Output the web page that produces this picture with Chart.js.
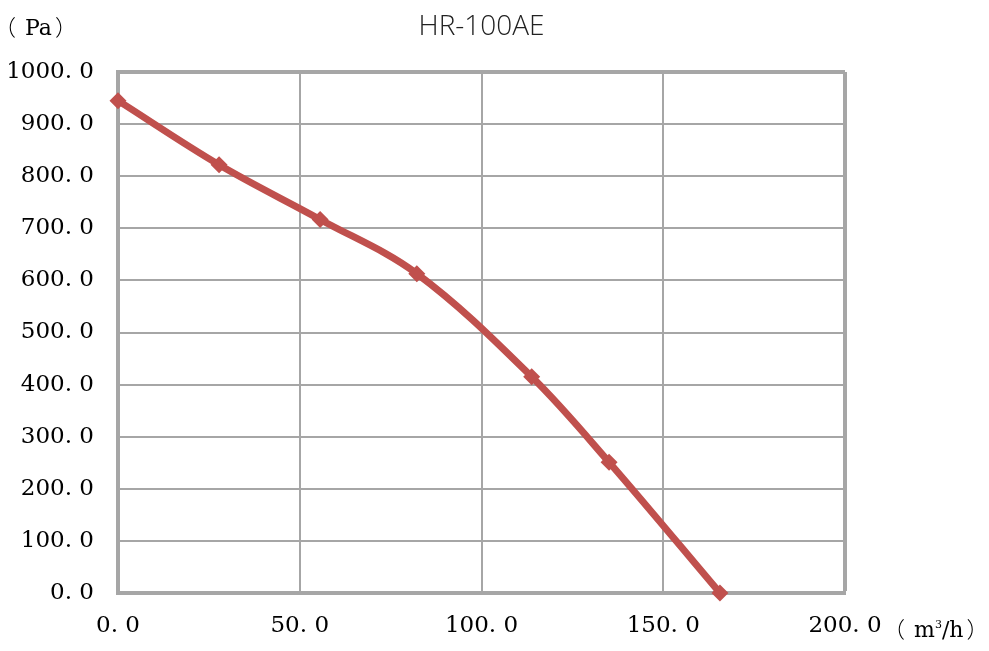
<!DOCTYPE html>
<html>
<head>
<meta charset="utf-8">
<script src="https://cdn.jsdelivr.net/npm/chart.js@4/dist/chart.umd.min.js"></script>
<style>
  html, body { margin: 0; padding: 0; background: #fff; }
  #wrap { position: relative; width: 989px; height: 651px; }
  canvas { position: absolute; left: 0; top: 0; }
  .unit { position: absolute; font-family: "DejaVu Serif", "Liberation Serif", serif; font-size: 22px; color: #000; white-space: nowrap; line-height: 1; }
  .p { font-family: "Noto Sans CJK SC", sans-serif; font-weight: 300; }
  .l { margin-left: -11px; margin-right: 9px; }
  .r { margin-left: 3px; }
</style>
</head>
<body>
<div id="wrap">
  <canvas id="c" width="989" height="651"></canvas>
  <div class="unit" style="left:5px; top:14px;"><span class="p l">（</span>Pa<span class="p r">）</span></div>
  <div class="unit" style="left:894px; top:616px;"><span class="p l">（</span>m<sup style="font-size:11px; vertical-align: 9px;">3</sup>/h<span class="p r">）</span></div>
</div>
<script>
const chartTitle = "HR-100AE";
const flowValues = [0, 27.8, 55.6, 82.2, 113.8, 135.1, 165.6];
const pressureValues = [945, 822, 717, 613, 415, 251, 0];
const xTickValues = [0, 50, 100, 150, 200];
const yTickValues = [0, 100, 200, 300, 400, 500, 600, 700, 800, 900, 1000];

const points = flowValues.map((x, i) => ({ x: x, y: pressureValues[i] }));
const fmt = v => v.toFixed(1).replace('.', '. ');
const gridColor = '#a6a6a6';

new Chart(document.getElementById('c'), {
  type: 'line',
  data: {
    datasets: [{
      data: points,
      borderColor: '#c0504d',
      backgroundColor: '#c0504d',
      borderWidth: 7,
      pointStyle: 'rectRot',
      pointRadius: 8.5,
      pointBorderWidth: 0,
      tension: 0.35,
      clip: false,
      fill: false
    }]
  },
  options: {
    responsive: false,
    animation: false,
    devicePixelRatio: 1,
    layout: { padding: { left: 0, right: 144, top: 0, bottom: 0 } },
    plugins: {
      legend: { display: false },
      tooltip: { enabled: false },
      title: {
        display: true,
        text: chartTitle,
        fullSize: false,
        color: '#222',
        font: { family: '"Open Sans", "Noto Sans", sans-serif', size: 28, weight: 300 },
        padding: { top: 10, bottom: 28.4 }
      }
    },
    scales: {
      x: {
        type: 'linear',
        min: 0, max: 200,
        afterBuildTicks: s => { s.ticks = xTickValues.map(v => ({ value: v })); },
        afterFit: s => { s.height = 58; },
        ticks: {
          color: '#000',
          font: { family: '"DejaVu Serif", serif', size: 23 },
          padding: 19,
          maxRotation: 0,
          callback: v => fmt(v)
        },
        grid: {
          color: gridColor,
          lineWidth: ctx => (ctx.tick && ctx.tick.value === 200) ? 4 : 2,
          drawTicks: false
        },
        border: { display: true, color: gridColor, width: 4 }
      },
      y: {
        type: 'linear',
        min: 0, max: 1000,
        afterBuildTicks: s => { s.ticks = yTickValues.map(v => ({ value: v })); },
        afterFit: s => { s.width = 118; },
        ticks: {
          color: '#000',
          font: { family: '"DejaVu Serif", serif', size: 23 },
          padding: 24,
          callback: v => fmt(v)
        },
        grid: {
          color: gridColor,
          lineWidth: ctx => (ctx.tick && ctx.tick.value === 1000) ? 4 : 2,
          drawTicks: false
        },
        border: { display: true, color: gridColor, width: 4 }
      }
    }
  }
});
</script>
</body>
</html>
